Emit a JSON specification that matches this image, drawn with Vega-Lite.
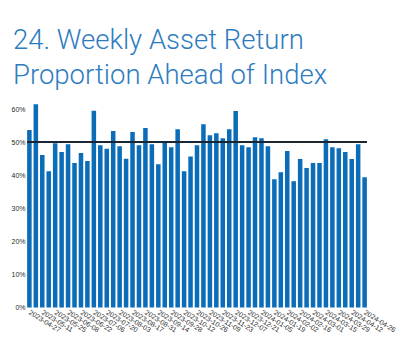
{
  "$schema": "https://vega.github.io/schema/vega-lite/v6.json",
  "width": 340,
  "height": 205,
  "autosize": {"type": "none"},
  "padding": {"left": 27, "top": 102.5, "right": 50, "bottom": 54.5},
  "background": "white",
  "config": {"view": {"stroke": null}},
  "title": {
    "text": ["24. Weekly Asset Return", "Proportion Ahead of Index"],
    "anchor": "start",
    "frame": "group",
    "dx": -14,
    "offset": 13,
    "font": "Roboto",
    "fontWeight": 300,
    "fontSize": 27.5,
    "lineHeight": 35,
    "color": "#2e7cc0"
  },
  "data": {"values": [
    {"week": "2023-04-27", "share": 0.537},
    {"week": "2023-05-04", "share": 0.615},
    {"week": "2023-05-11", "share": 0.461},
    {"week": "2023-05-18", "share": 0.412},
    {"week": "2023-05-25", "share": 0.497},
    {"week": "2023-06-01", "share": 0.470},
    {"week": "2023-06-08", "share": 0.494},
    {"week": "2023-06-15", "share": 0.437},
    {"week": "2023-06-22", "share": 0.467},
    {"week": "2023-06-29", "share": 0.443},
    {"week": "2023-07-06", "share": 0.595},
    {"week": "2023-07-13", "share": 0.491},
    {"week": "2023-07-20", "share": 0.480},
    {"week": "2023-07-27", "share": 0.534},
    {"week": "2023-08-03", "share": 0.488},
    {"week": "2023-08-10", "share": 0.450},
    {"week": "2023-08-17", "share": 0.531},
    {"week": "2023-08-24", "share": 0.491},
    {"week": "2023-08-31", "share": 0.543},
    {"week": "2023-09-07", "share": 0.494},
    {"week": "2023-09-14", "share": 0.433},
    {"week": "2023-09-21", "share": 0.500},
    {"week": "2023-09-28", "share": 0.485},
    {"week": "2023-10-05", "share": 0.539},
    {"week": "2023-10-12", "share": 0.412},
    {"week": "2023-10-19", "share": 0.457},
    {"week": "2023-10-26", "share": 0.491},
    {"week": "2023-11-02", "share": 0.554},
    {"week": "2023-11-09", "share": 0.521},
    {"week": "2023-11-16", "share": 0.527},
    {"week": "2023-11-23", "share": 0.512},
    {"week": "2023-11-30", "share": 0.539},
    {"week": "2023-12-07", "share": 0.594},
    {"week": "2023-12-14", "share": 0.491},
    {"week": "2023-12-21", "share": 0.485},
    {"week": "2023-12-28", "share": 0.515},
    {"week": "2024-01-05", "share": 0.512},
    {"week": "2024-01-12", "share": 0.488},
    {"week": "2024-01-19", "share": 0.388},
    {"week": "2024-01-26", "share": 0.409},
    {"week": "2024-02-02", "share": 0.473},
    {"week": "2024-02-09", "share": 0.382},
    {"week": "2024-02-16", "share": 0.449},
    {"week": "2024-02-23", "share": 0.422},
    {"week": "2024-03-01", "share": 0.437},
    {"week": "2024-03-08", "share": 0.437},
    {"week": "2024-03-15", "share": 0.509},
    {"week": "2024-03-22", "share": 0.485},
    {"week": "2024-03-29", "share": 0.482},
    {"week": "2024-04-05", "share": 0.470},
    {"week": "2024-04-12", "share": 0.449},
    {"week": "2024-04-19", "share": 0.494},
    {"week": "2024-04-26", "share": 0.394}
  ]},
  "layer": [
    {
      "mark": {"type": "bar", "color": "#0b6cb8"},
      "encoding": {
        "x": {
          "field": "week", "type": "ordinal", "sort": null,
          "scale": {"paddingInner": 0.3, "paddingOuter": 0.02},
          "axis": {
            "title": null,
            "values": ["2023-04-27","2023-05-11","2023-05-25","2023-06-08","2023-06-22","2023-07-06","2023-07-20","2023-08-03","2023-08-17","2023-08-31","2023-09-14","2023-09-28","2023-10-12","2023-10-26","2023-11-09","2023-11-23","2023-12-07","2023-12-21","2024-01-05","2024-01-19","2024-02-02","2024-02-16","2024-03-01","2024-03-15","2024-03-29","2024-04-12","2024-04-26"],
            "labelAngle": 32,
            "labelAlign": "left",
            "labelBaseline": "middle",
            "labelFont": "Liberation Sans",
            "labelFontSize": 7,
            "labelColor": "#2a2a2a",
            "labelPadding": 4,
            "labelOverlap": false,
            "ticks": false,
            "domain": false,
            "grid": false
          }
        },
        "y": {
          "field": "share", "type": "quantitative",
          "scale": {"domain": [0, 0.62], "nice": false},
          "axis": {
            "title": null,
            "values": [0, 0.1, 0.2, 0.3, 0.4, 0.5, 0.6],
            "tickCount": 7,
            "format": ".0%",
            "labelFont": "Liberation Sans",
            "labelFontSize": 7,
            "labelColor": "#2a2a2a",
            "labelPadding": 2,
            "labelOverlap": false,
            "labelSeparation": 0,
            "labelFlush": false,
            "ticks": false,
            "domain": false,
            "grid": false
          }
        }
      }
    },
    {
      "mark": {"type": "rule", "color": "#1c2633", "strokeWidth": 1.2},
      "encoding": {"y": {"datum": 0.5}}
    }
  ]
}
